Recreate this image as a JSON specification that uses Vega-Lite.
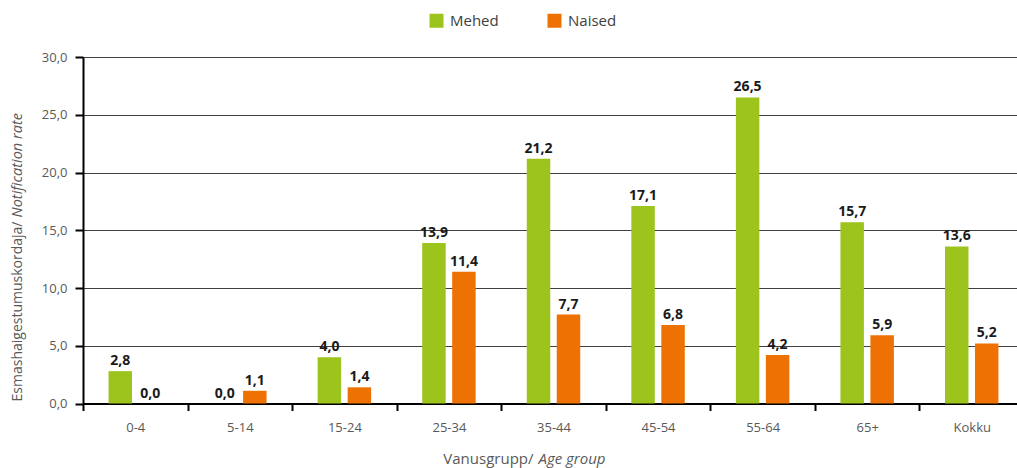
{
  "$schema": "https://vega.github.io/schema/vega-lite/v6.json",
  "autosize": "none",
  "width": 934,
  "height": 346.5,
  "padding": {"left": 83, "top": 57, "right": 0, "bottom": 64.5},
  "config": {
    "font": "Open Sans",
    "view": {"stroke": null},
    "locale": {"number": {"decimal": ",", "thousands": " ", "grouping": [3], "currency": ["", " €"]}}
  },
  "data": {
    "values": [
      {"age": "0-4", "sex": "Mehed", "value": 2.8},
      {"age": "0-4", "sex": "Naised", "value": 0.0},
      {"age": "5-14", "sex": "Mehed", "value": 0.0},
      {"age": "5-14", "sex": "Naised", "value": 1.1},
      {"age": "15-24", "sex": "Mehed", "value": 4.0},
      {"age": "15-24", "sex": "Naised", "value": 1.4},
      {"age": "25-34", "sex": "Mehed", "value": 13.9},
      {"age": "25-34", "sex": "Naised", "value": 11.4},
      {"age": "35-44", "sex": "Mehed", "value": 21.2},
      {"age": "35-44", "sex": "Naised", "value": 7.7},
      {"age": "45-54", "sex": "Mehed", "value": 17.1},
      {"age": "45-54", "sex": "Naised", "value": 6.8},
      {"age": "55-64", "sex": "Mehed", "value": 26.5},
      {"age": "55-64", "sex": "Naised", "value": 4.2},
      {"age": "65+", "sex": "Mehed", "value": 15.7},
      {"age": "65+", "sex": "Naised", "value": 5.9},
      {"age": "Kokku", "sex": "Mehed", "value": 13.6},
      {"age": "Kokku", "sex": "Naised", "value": 5.2}
    ]
  },
  "layer": [
    {
      "mark": {"type": "bar"},
      "encoding": {
        "x": {
          "field": "age", "type": "nominal", "sort": null,
          "scale": {"paddingInner": 0, "paddingOuter": 0, "range": [0, 941]},
          "axis": {
            "title": "Vanusgrupp/",
            "titleFontWeight": "normal", "titleFontSize": 15, "titleColor": "#595959",
            "titleX": 450, "titleY": 54.5, "titleAlign": "right", "titleBaseline": "middle", "titleAnchor": null,
            "labelAngle": 0, "labelFontSize": 13, "labelColor": "#595959", "labelPadding": 11,
            "domainColor": "#000000", "domainWidth": 2, "tickColor": "#000000", "tickWidth": 2, "tickSize": 7, "tickBand": "extent"
          }
        },
        "xOffset": {"field": "sex", "type": "nominal", "scale": {"paddingInner": 0.217, "paddingOuter": 0.852}},
        "y": {
          "field": "value", "type": "quantitative",
          "scale": {"domain": [0, 30]},
          "axis": {
            "title": "Esmashaigestumuskordaja/",
            "titleFontWeight": "normal", "titleFontSize": 14, "titleColor": "#595959",
            "titleX": -66, "titleY": 164, "titleAlign": "right", "titleBaseline": "middle", "titleAnchor": null, "titleAngle": -90,
            "format": ".1f", "values": [0, 5, 10, 15, 20, 25, 30],
            "labelFontSize": 13, "labelColor": "#595959", "labelPadding": 8,
            "domainColor": "#000000", "domainWidth": 2, "tickColor": "#000000", "tickWidth": 2, "tickSize": 8,
            "grid": true, "gridColor": "#404040", "gridWidth": 1.2
          }
        },
        "color": {
          "field": "sex", "type": "nominal",
          "scale": {"domain": ["Mehed", "Naised"], "range": ["#9DC31D", "#EE7203"]},
          "legend": {
            "title": null, "orient": "none", "direction": "horizontal", "legendX": 346, "legendY": -44,
            "symbolType": "square", "symbolSize": 196, "symbolStrokeWidth": 0, "labelFontSize": 15, "labelColor": "#404040",
            "columnPadding": 48, "labelOffset": 6
          }
        }
      }
    },
    {
      "mark": {"type": "text", "dy": -10, "fontSize": 14, "fontWeight": "bold", "color": "#1a1a1a"},
      "encoding": {
        "x": {
          "field": "age", "type": "nominal", "sort": null,
          "axis": {
            "orient": "bottom", "labels": false, "ticks": false, "domain": false, "grid": false,
            "title": "Age group", "titleFontStyle": "italic",
            "titleFontWeight": "normal", "titleFontSize": 15, "titleColor": "#595959",
            "titleX": 455, "titleY": 54.5, "titleAlign": "left", "titleBaseline": "middle", "titleAnchor": null
          }
        },
        "xOffset": {"field": "sex", "type": "nominal"},
        "y": {
          "field": "value", "type": "quantitative",
          "axis": {
            "orient": "left", "labels": false, "ticks": false, "domain": false, "grid": false,
            "title": "Notification rate", "titleFontStyle": "italic",
            "titleFontWeight": "normal", "titleFontSize": 14.5, "titleColor": "#595959",
            "titleX": -66, "titleY": 160, "titleAlign": "left", "titleBaseline": "middle", "titleAnchor": null, "titleAngle": -90
          }
        },
        "text": {"field": "value", "type": "quantitative", "format": ".1f"}
      }
    }
  ],
  "resolve": {"axis": {"x": "independent", "y": "independent"}}
}
